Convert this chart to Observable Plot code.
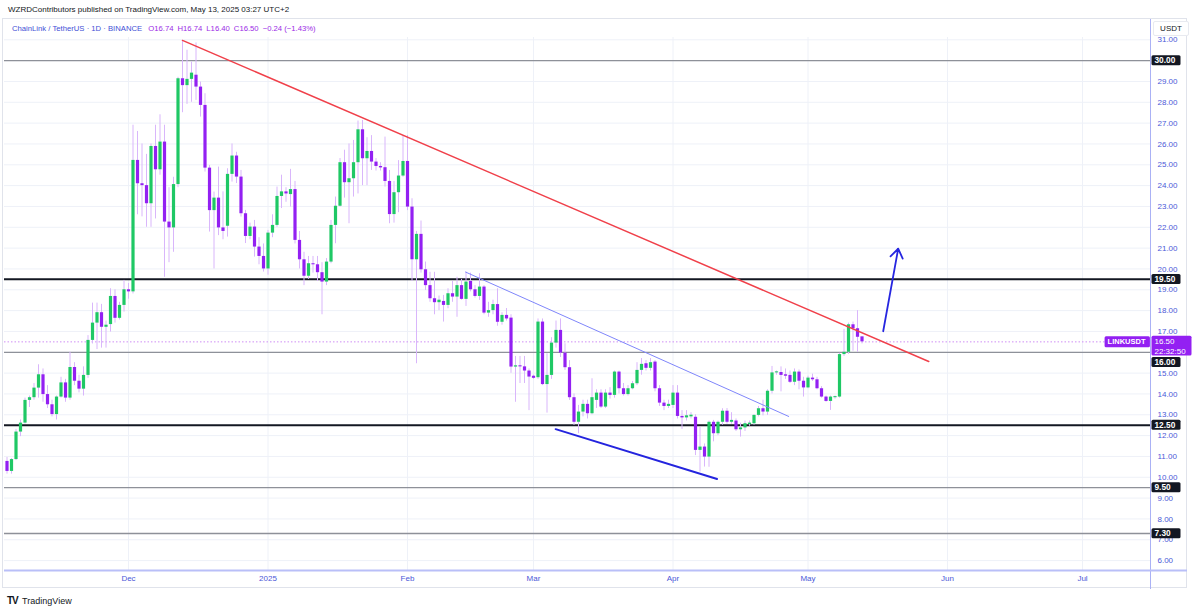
<!DOCTYPE html>
<html><head><meta charset="utf-8">
<script src="https://cdn.jsdelivr.net/npm/d3@7"></script>
<script src="https://cdn.jsdelivr.net/npm/@observablehq/plot@0.6"></script>
<style>
body{margin:0;background:#fff;font-family:"Liberation Sans",Arial,sans-serif;}
#wrap{position:relative;width:1200px;height:611px;overflow:hidden;background:#fff;}
#frame{position:absolute;left:2px;top:18px;width:1185px;height:570px;border:1px solid #e0e3eb;box-sizing:border-box;}
#hdr{position:absolute;left:8px;top:5px;font-size:8px;color:#131722;white-space:nowrap;}
#legend{position:absolute;left:12px;top:24px;font-size:7.7px;white-space:nowrap;}
#legend .sym{color:#3f4fd6;}
#legend .val{color:#9b2be6;margin-left:4px;}
#chart{position:absolute;left:0;top:19px;}
#usdt{position:absolute;left:1153px;top:21px;width:36px;height:15px;background:#fff;border:1px solid #e8eaf0;border-radius:2px;box-sizing:border-box;font-size:8px;color:#131722;text-align:center;line-height:14px;}
#footer{position:absolute;left:7px;top:595px;font-size:9px;color:#131722;white-space:nowrap;}
#footer b{font-size:10px;letter-spacing:-1px;margin-right:2px;}
</style></head><body>
<div id="wrap">
<div id="frame"></div>
<div id="chart"></div>
<div id="hdr">WZRDContributors published on TradingView.com, May 13, 2025 03:27 UTC+2</div>
<div id="legend"><span class="sym">ChainLink / TetherUS · 1D · BINANCE</span> <span class="val">O16.74</span><span class="val">H16.74</span><span class="val">L16.40</span><span class="val">C16.50</span><span class="val">−0.24 (−1.43%)</span></div>
<div id="usdt">USDT</div>
<div id="footer"><b>TV</b> TradingView</div>
</div>
<script>
// ---- data ----
const startDate = "2024-11-04";
const open = [
  // Nov
  10.76,10.28,10.85,12.17,12.6,13.69,13.82,14.28,14.92,13.97,13.48,13.01,13.85,14.53,13.8,15.27,14.61,14.23,14.89,16.57,17.4,17.9,17.2,17.33,18.68,17.63,18.25,
  // Dec
  19.0,18.9,25.21,24.09,24.0,23.13,25.88,24.76,26.09,22.25,21.97,24.05,29.13,28.8,29.1,29.3,28.73,27.85,24.84,22.8,23.4,21.97,22.05,24.54,25.42,24.41,22.65,21.56,22.01,21.05,20.6,
  // Jan
  20.0,21.72,22.09,23.48,23.7,23.57,23.81,21.37,20.44,19.65,20.25,20.2,19.82,19.37,20.33,22.09,23.01,25.1,24.14,24.33,25.1,26.68,25.29,25.64,25.13,24.92,24.86,24.2,22.61,23.66,24.46,
  // Feb
  25.16,22.97,20.44,21.66,19.96,19.2,18.57,18.38,18.44,18.25,18.81,18.65,19.2,18.54,19.4,19.0,18.68,19.13,17.88,18.0,18.29,17.44,17.77,17.64,15.29,15.35,15.3,15.1,
  // Mar
  14.85,14.78,17.45,14.45,14.89,16.44,17.05,15.96,15.26,13.82,12.64,13.13,13.5,13.05,13.69,14.04,13.37,14.04,13.93,15.05,14.25,13.97,14.25,14.49,15.13,15.45,15.23,15.53,14.25,13.56,13.4,
  // Apr
  13.45,14.04,12.92,12.85,12.9,12.88,11.29,11.45,10.97,12.64,12.09,12.64,13.17,12.64,12.7,12.28,12.37,12.53,12.57,12.97,13.29,13.13,14.13,15.01,15.03,14.92,14.89,14.56,15.05,14.61,
  // May
  14.29,14.76,14.68,14.25,13.85,13.64,13.82,13.85,15.89,16.0,17.32,17.13,16.74
];
const high = [
  10.95,10.9,12.3,12.75,13.8,13.9,14.5,15.4,15.2,14.4,13.7,13.9,14.8,14.7,16.0,15.5,14.9,15.3,16.8,18.36,18.36,18.3,17.5,19.05,19.0,18.4,19.45,
  19.3,26.9,26.6,26.0,25.5,26.0,26.9,27.4,26.9,23.9,24.4,29.2,30.97,30.5,29.93,30.85,28.97,28.41,24.97,23.69,24.89,23.7,24.81,26.0,25.6,24.73,22.81,22.2,22.33,21.5,21.2,
  21.85,22.6,23.93,24.5,23.9,24.78,24.2,21.8,20.8,20.6,20.6,20.6,20.3,20.5,22.33,23.45,25.3,25.7,26.0,26.17,27.1,27.13,26.3,26.4,25.3,25.1,26.33,24.73,24.2,25.2,26.4,
  26.4,23.37,21.8,22.3,20.33,19.84,19.84,18.7,18.73,19.05,19.4,19.6,19.5,19.85,19.8,19.2,19.77,19.2,18.4,18.5,19.05,17.9,18.1,17.8,15.8,15.8,15.8,15.2,
  14.9,17.6,17.6,15.93,16.7,17.5,17.6,16.41,15.6,14.0,13.45,13.7,13.7,14.73,14.2,14.2,14.2,14.3,15.1,15.1,14.5,14.4,14.6,15.5,15.7,15.6,15.7,15.6,14.4,13.7,13.7,
  14.4,14.4,13.2,13.2,13.1,13.0,12.4,11.6,12.7,12.73,12.7,13.29,13.3,13.1,12.8,12.6,12.7,12.7,13.0,13.4,13.7,14.2,15.32,15.1,15.3,15.2,15.1,15.2,15.15,14.8,
  14.85,14.95,14.8,14.35,13.9,13.9,13.9,15.95,17.1,17.4,17.45,18.0,16.74
];
const low = [
  10.15,10.15,10.8,11.95,12.55,13.35,13.7,13.8,13.6,13.3,12.9,12.75,13.8,13.6,13.7,14.4,14.05,13.9,14.75,16.4,16.13,16.2,16.2,16.97,17.4,17.55,17.93,
  18.55,18.8,22.6,22.5,22.0,22.0,22.4,24.5,19.6,20.3,20.8,23.9,27.5,27.9,28.0,28.09,27.29,24.65,21.77,20.0,21.6,21.4,21.53,24.17,24.1,22.49,21.22,21.4,20.57,20.2,19.85,
  19.7,21.5,22.0,22.9,23.2,22.97,21.2,20.0,19.2,19.5,19.8,19.4,17.8,19.2,20.25,21.21,22.97,23.4,22.17,23.45,23.6,24.0,24.0,24.73,24.7,24.7,23.93,22.17,22.2,22.7,24.4,
  22.8,19.4,15.45,19.8,18.97,18.4,17.8,18.0,17.45,18.09,18.4,17.68,18.5,18.2,18.9,18.6,18.49,17.8,17.68,17.8,17.25,17.3,17.5,14.99,13.6,14.5,14.5,13.2,
  14.7,14.7,14.4,13.08,14.7,16.2,15.75,15.13,13.69,12.49,12.09,12.9,12.8,13.0,13.3,13.3,13.3,13.75,13.8,14.0,13.9,13.9,14.2,14.4,14.9,15.1,15.1,14.1,13.4,13.2,13.3,
  13.3,12.8,12.3,12.7,12.8,11.04,10.25,10.49,10.48,11.7,12.0,12.5,12.55,12.55,12.2,11.93,12.2,12.45,12.5,12.9,12.95,12.97,14.0,14.9,14.1,14.7,14.5,14.4,14.2,13.85,
  14.25,14.6,14.2,13.8,13.6,13.21,13.75,13.8,15.8,15.9,16.05,16.0,16.40
];
const close = [
  10.28,10.85,12.17,12.6,13.69,13.82,14.28,14.92,13.97,13.48,13.01,13.85,14.53,13.8,15.27,14.61,14.23,14.89,16.57,17.4,17.9,17.2,17.3,18.68,17.63,18.25,19.0,
  18.9,25.21,24.09,24.0,23.13,25.88,24.76,26.09,22.25,21.97,24.05,29.13,28.8,29.1,29.4,28.73,27.85,24.84,22.8,23.4,21.97,21.8,24.54,25.42,24.41,22.65,21.56,22.01,21.05,20.6,20.0,
  21.72,22.09,23.48,23.7,23.6,23.81,21.37,20.44,19.65,20.25,20.2,19.82,19.37,20.33,22.09,23.01,25.1,24.14,24.33,25.1,26.68,25.29,25.64,25.13,24.92,24.85,24.2,22.61,23.66,24.46,25.16,
  22.97,20.44,21.66,19.96,19.2,18.57,18.38,18.5,18.25,18.81,18.65,19.2,18.54,19.37,19.0,18.68,19.13,17.88,18.0,18.29,17.44,17.77,17.6,15.29,15.35,15.3,15.1,14.81,
  14.75,17.45,14.45,14.89,16.44,17.05,15.96,15.26,13.82,12.64,13.13,13.5,13.05,13.82,14.04,13.37,14.04,13.93,15.05,14.25,13.97,14.25,14.49,15.13,15.42,15.23,15.5,14.25,13.56,13.4,13.5,
  14.04,12.92,12.85,12.95,12.98,11.29,11.45,10.97,12.64,12.09,12.64,13.17,12.64,12.73,12.28,12.37,12.57,12.6,12.97,13.29,13.13,14.13,15.01,15.06,14.89,14.85,14.56,15.05,14.61,14.29,
  14.76,14.68,14.25,13.85,13.64,13.85,13.87,15.89,16.0,17.32,17.13,16.72,16.50
];

const majorLevels = [19.5, 12.5];
const minorLevels = [30.0, 9.5, 7.3];
const nearPriceLevel = [16.0];   // its label is pushed below the live price label
const yTicks = [6,7,8,9,10,11,12,13,14,15,17,18,19,20,21,22,23,24,25,26,27,28,29,31];
const monthTicks = ["2024-12-01","2025-01-01","2025-02-01","2025-03-01","2025-04-01","2025-05-01","2025-06-01","2025-07-01"];
const monthLabels = ["Dec","2025","Feb","Mar","Apr","May","Jun","Jul"];

const redLine = [{date:"2024-12-13T00:00Z", price:30.97},{date:"2025-05-27T20:00Z", price:15.56}];
const thinBlueLine = [{date:"2025-02-13T22:00Z", price:19.85},{date:"2025-04-26T17:00Z", price:12.92}];
const thickBlueLine = [{date:"2025-03-05T22:00Z", price:12.31},{date:"2025-04-10T19:00Z", price:9.92}];
const arrowUp = {from:{date:"2025-05-17T17:00Z", price:17.01}, to:{date:"2025-05-21T01:00Z", price:20.97}};

const symbol = "LINKUSDT";
const countdown = "22:32:50";

// ---- build ----
const day0 = new Date(startDate);
const candles = open.map((o, i) => ({date: d3.utcDay.offset(day0, i), o, h: high[i], l: low[i], c: close[i]}));
const parse = d => new Date(d);
const lastClose = close[close.length - 1];
const dec1 = new Date("2024-12-01");
const xMin = new Date(+dec1 - 27.556 * 864e5);
const xMax = new Date(+dec1 + 227.11 * 864e5);
const yMin = 5.525, yMax = 31.11;
const tickDates = monthTicks.map(parse);
const labelOf = new Map(tickDates.map((d, i) => [+d, monthLabels[i]]));

const GREEN = "#1fc865", PURPLE = "#9320f2", WICK = "#d9b6fb", AXIS = "#4b58d8";
const lvlText = {y: d => d, text: d => d.toFixed(2), frameAnchor: "right", textAnchor: "start", dx: 4,
  fill: "white", fontWeight: "bold", fontSize: 8.3, className: "lvl"};

const chart = Plot.plot({
  width: 1200, height: 572,
  marginLeft: 4, marginRight: 50, marginTop: 18, marginBottom: 21,
  style: {fontFamily: "Liberation Sans, Arial, sans-serif", fontSize: "8px", background: "transparent"},
  x: {type: "utc", domain: [xMin, xMax]},
  y: {domain: [yMin, yMax]},
  marks: [
    Plot.gridY(yTicks.concat([16, 30]), {stroke: "#eef1f8", strokeOpacity: 1}),
    Plot.gridX(tickDates, {stroke: "#eef1f8", strokeOpacity: 1}),
    Plot.ruleY(minorLevels.concat(nearPriceLevel), {stroke: "#8e9199", strokeWidth: 1.3}),
    Plot.ruleY(majorLevels, {stroke: "#131722", strokeWidth: 2}),
    Plot.ruleY([lastClose], {stroke: "#cf8ff5", strokeWidth: 1, strokeDasharray: "1.5,2"}),
    Plot.ruleX(candles, {x: "date", y1: "l", y2: "h", stroke: WICK, strokeWidth: 1}),
    Plot.ruleX(candles, {x: "date", y1: "o", y2: "c", stroke: d => d.c >= d.o ? GREEN : PURPLE, strokeWidth: 3.2, strokeLinecap: "butt"}),
    Plot.line(redLine, {x: d => parse(d.date), y: "price", stroke: "#f0404a", strokeWidth: 1.5}),
    Plot.line(thinBlueLine, {x: d => parse(d.date), y: "price", stroke: "#7f86fb", strokeWidth: 1}),
    Plot.line(thickBlueLine, {x: d => parse(d.date), y: "price", stroke: "#2424de", strokeWidth: 2}),
    Plot.arrow([arrowUp], {x1: d => parse(d.from.date), y1: d => d.from.price, x2: d => parse(d.to.date), y2: d => d.to.price,
      stroke: "#2626e0", strokeWidth: 1.8, headLength: 9, headAngle: 70}),
    Plot.ruleX([xMax], {stroke: "#aab1f5", strokeWidth: 1, insetTop: -18, insetBottom: -19}),
    Plot.ruleY([yMin], {stroke: "#b9bff8", strokeWidth: 2, insetRight: -37}),
    Plot.axisY(yTicks, {anchor: "right", tickSize: 0, tickPadding: 7, tickFormat: d => d.toFixed(2), fill: AXIS, fontSize: 8}),
    Plot.axisX(tickDates, {anchor: "bottom", tickSize: 0, tickPadding: 5, tickFormat: d => labelOf.get(+d), fill: AXIS, fontSize: 8}),
    Plot.text(majorLevels.concat(minorLevels), lvlText),
    Plot.text(nearPriceLevel, {...lvlText, dy: 10}),
    Plot.text([lastClose], {y: d => d, text: d => d.toFixed(2) + "\n" + countdown, frameAnchor: "right", textAnchor: "start", lineAnchor: "top", dx: 4, dy: -5,
      lineHeight: 1.22, fill: "white", fontSize: 8, className: "pricelbl"}),
    Plot.text([lastClose], {y: d => d, text: () => symbol, frameAnchor: "right", textAnchor: "end", dx: -5,
      fill: "white", fontWeight: "bold", fontSize: 7.5, className: "symlbl"})
  ]
});
document.getElementById("chart").append(chart);

const NS = "http://www.w3.org/2000/svg";
function boxify(cls, fill, pl, pr, pt, pb, fixedWidth) {
  chart.querySelectorAll("g." + cls + " text").forEach(t => {
    const b = t.getBBox();
    const r = document.createElementNS(NS, "rect");
    const w = fixedWidth != null ? fixedWidth : b.width + pl + pr;
    r.setAttribute("x", b.x - pl);
    r.setAttribute("y", b.y - pt);
    r.setAttribute("width", w);
    r.setAttribute("height", b.height + pt + pb);
    r.setAttribute("rx", 1.5);
    r.setAttribute("fill", fill);
    const tr = t.getAttribute("transform");
    if (tr) r.setAttribute("transform", tr);
    t.parentNode.insertBefore(r, t);
  });
}
boxify("lvl", "#131722", 3, 4, 0, 0, 29);
boxify("pricelbl", PURPLE, 3, 5, 1, 0, 40);
boxify("symlbl", PURPLE, 3, 4, 1, 1);
</script>
</body></html>
